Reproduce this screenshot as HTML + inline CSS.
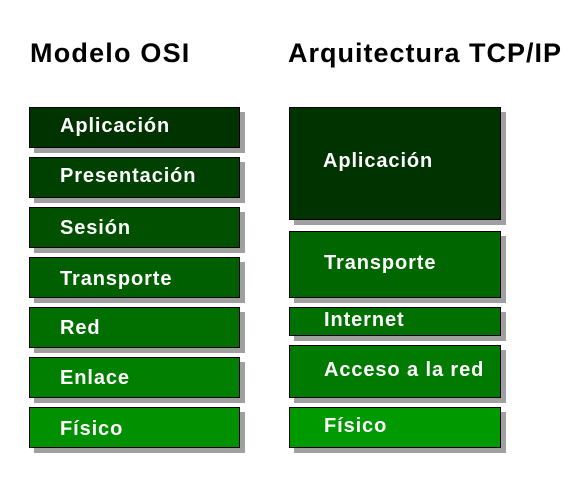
<!DOCTYPE html>
<html><head><style>
body{margin:0;width:576px;height:480px;background:#fff;position:relative;font-family:"Liberation Sans","DejaVu Sans",sans-serif;overflow:hidden}
.t{position:absolute;top:38px;font-size:27px;font-weight:bold;color:#000;letter-spacing:1px}
.b{position:absolute;box-sizing:border-box;border:1px solid #000;box-shadow:5px 5px 0 #a0a0a0;color:#fff;font-weight:bold;font-size:20px;letter-spacing:0.9px;display:flex;align-items:center;}
</style></head><body>
<div class="t" style="left:30px;letter-spacing:1.2px">Modelo OSI</div>
<div class="t" style="left:288px">Arquitectura TCP/IP</div>

<div class="b" style="left:29px;top:107px;width:211px;height:41px;background:#003300;padding-left:30px;padding-bottom:2px">Aplicación</div>
<div class="b" style="left:29px;top:157px;width:211px;height:41px;background:#004000;padding-left:30px;padding-bottom:2px">Presentación</div>
<div class="b" style="left:29px;top:207px;width:211px;height:41px;background:#005000;padding-left:30px;padding-top:2px">Sesión</div>
<div class="b" style="left:29px;top:257px;width:211px;height:41px;background:#005f00;padding-left:30px;padding-top:4px">Transporte</div>
<div class="b" style="left:29px;top:307px;width:211px;height:41px;background:#006f00;padding-left:30px;padding-top:2px">Red</div>
<div class="b" style="left:29px;top:357px;width:211px;height:41px;background:#007f00;padding-left:30px;padding-top:2px">Enlace</div>
<div class="b" style="left:29px;top:407px;width:211px;height:41px;background:#009000;padding-left:30px;padding-top:4px">Físico</div>

<div class="b" style="left:289px;top:107px;width:212px;height:113px;background:#003300;padding-left:33px;padding-bottom:4px">Aplicación</div>
<div class="b" style="left:289px;top:231px;width:212px;height:67px;background:#006600;padding-left:34px;padding-bottom:2px">Transporte</div>
<div class="b" style="left:289px;top:307px;width:212px;height:29px;background:#007000;padding-left:34px;padding-bottom:3px">Internet</div>
<div class="b" style="left:289px;top:345px;width:212px;height:53px;background:#007a00;padding-left:34px;padding-bottom:2px">Acceso a la red</div>
<div class="b" style="left:289px;top:407px;width:212px;height:41px;background:#009900;padding-left:34px;padding-bottom:2px">Físico</div>
</body></html>
